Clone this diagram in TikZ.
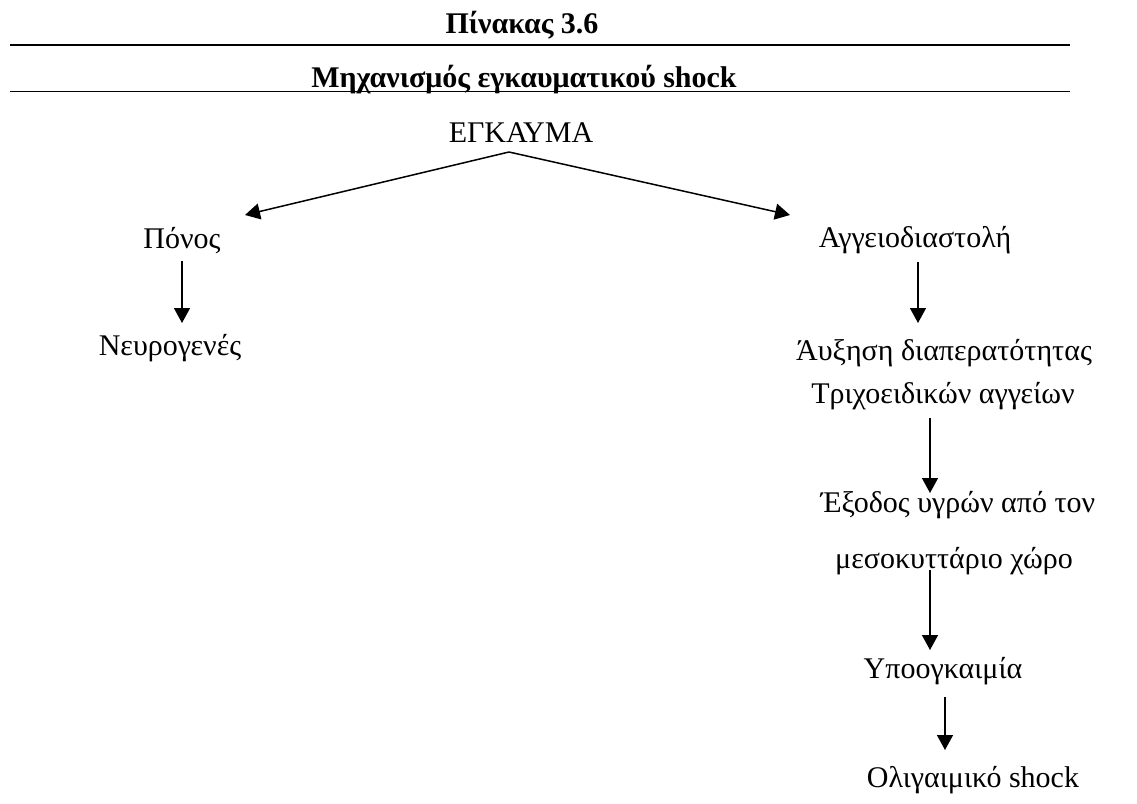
\documentclass[tikz,border=0pt]{standalone}
\usepackage{fontspec}
\setmainfont{Liberation Serif}
\usetikzlibrary{arrows.meta,calc}
\begin{document}
\begin{tikzpicture}[x=0.5pt,y=-0.5pt,
  lbl/.style={anchor=base,inner sep=0pt,font=\fontsize{15}{18}\selectfont},
  ttl/.style={anchor=base,inner sep=0pt,font=\fontsize{15}{18}\selectfont\bfseries},
  rule/.style={line width=0.8pt},
  arr/.style={line width=0.75pt,-{Triangle[length=7.5pt,width=8pt]}}]
\useasboundingbox (0,0) rectangle (1137,804);
% titles and rules
\node[ttl] (t1) at (522,33) {Πίνακας 3.6};
\node[ttl] (t2) at (524,87) {Μηχανισμός εγκαυματικού shock};
\coordinate (r1a) at (10,45);
\coordinate (r1b) at (1070,45);
\coordinate (r2a) at (10,91.5);
\coordinate (r2b) at (1070,91.5);
\draw[rule] (r1a) -- (r1b);
\draw[rule] (r2a) -- (r2b);
% nodes
\node[lbl] (burn) at (521,142) {ΕΓΚΑΥΜΑ};
\node[lbl] (pain) at (182,248) {Πόνος};
\node[lbl] (neuro) at (170,355) {Νευρογενές};
\node[lbl] (vaso) at (915,247) {Αγγειοδιαστολή};
\node[lbl] (perm1) at (944,360) {Άυξηση διαπερατότητας};
\node[lbl] (perm2) at (943,403) {Τριχοειδικών αγγείων};
\node[lbl] (exit1) at (958,512) {Έξοδος υγρών από τον};
\node[lbl] (exit2) at (954,568) {μεσοκυττάριο χώρο};
\node[lbl] (hypo) at (943,678) {Υποογκαιμία};
\node[lbl] (olig) at (973,787) {Ολιγαιμικό shock};
% connectors
\coordinate (apex) at ($(burn.base)+(-12,10)$);
\draw[arr] (apex) -- ($(pain.base)+(63,-33)$);
\draw[arr] (apex) -- ($(vaso.base)+(-125,-32)$);
\draw[arr] ($(pain.base)+(0,13)$) -- ($(pain.base|-neuro.base)+(0,-32)$);
\draw[arr] ($(vaso.base)+(3,15)$) -- ($(vaso.base|-perm1.base)+(3,-37)$);
\draw[arr] ($(perm2.base)+(-13,15)$) -- ($(perm2.base|-exit1.base)+(-13,-19)$);
\draw[arr] ($(exit2.base)+(-24,2)$) -- ($(exit2.base|-hypo.base)+(-24,-28)$);
\draw[arr] ($(hypo.base)+(2,19)$) -- ($(hypo.base|-olig.base)+(2,-37)$);
\end{tikzpicture}
\end{document}
